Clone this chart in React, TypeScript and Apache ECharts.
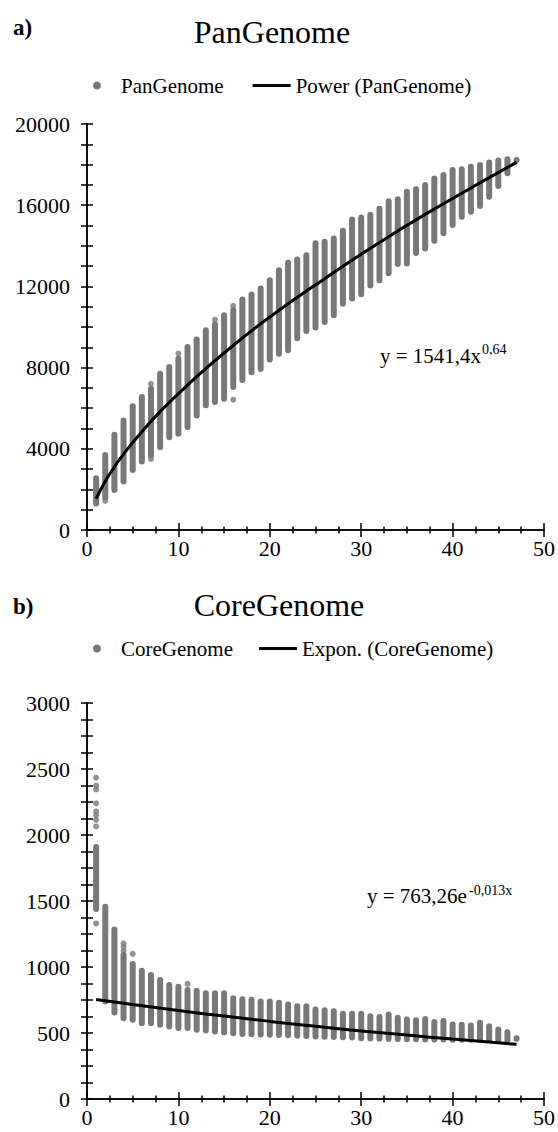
import React, { useEffect, useRef } from "react";
import * as echarts from "echarts";

const FONT = '"Liberation Serif", "Times New Roman", serif';
const GREY = "#787878";

// number of genomes (x)
const genomes = [
  1, 2, 3, 4, 5, 6, 7, 8, 9, 10, 11, 12, 13, 14, 15, 16, 17, 18, 19, 20, 21, 22, 23, 24,
  25, 26, 27, 28, 29, 30, 31, 32, 33, 34, 35, 36, 37, 38, 39, 40, 41, 42, 43, 44, 45, 46, 47,
];

// PanGenome: min / max of each column of points
const panMin = [
  1300, 1600, 1970, 2390, 2960, 3370, 3670, 4080, 4570, 4740, 5070, 5640, 6140, 6300, 6460, 7040,
  7390, 7770, 7930, 8400, 8680, 8850, 9450, 9800, 9970, 10250, 10580, 11150, 11400, 11610, 12040,
  12300, 12650, 13100, 13130, 13650, 13870, 14250, 14620, 15020, 15430, 15680, 15960, 16420, 16950,
  17570, 18230,
];
const panMax = [
  2550, 3700, 4690, 5400, 6090, 6550, 6960, 7700, 8030, 8440, 9010, 9380, 9840, 10130, 10580, 10820,
  11350, 11600, 11900, 12300, 12800, 13170, 13330, 13540, 14120, 14200, 14360, 14740, 15300, 15400,
  15530, 15820, 16200, 16290, 16660, 16780, 16990, 17320, 17490, 17740, 17770, 17900, 17980, 18100,
  18200, 18260, 18230,
];
// isolated PanGenome points
const panOutX = [2, 7, 7, 10, 14, 16, 16];
const panOutY = [1430, 7200, 3500, 8690, 10360, 11040, 6420];

// Power trendline
const panTrendX = [1, 2, 3, 4, 6, 8, 11, 15, 20, 26, 33, 40, 47];
const panTrendY = [1540, 2400, 3110, 3740, 4840, 5830, 7140, 8720, 10490, 12380, 14450, 16330, 18110];

// CoreGenome: min / max of each column of points
const coreMin = [
  1440, 738, 655, 612, 600, 574, 574, 562, 549, 537, 537, 524, 519, 511, 504, 499, 492, 490, 488,
  487, 485, 483, 480, 478, 474, 472, 470, 467, 465, 461, 459, 457, 454, 454, 453, 452, 451, 450,
  450, 449, 449, 448, 448, 447, 446, 441, 456,
];
const coreMax = [
  1910, 1456, 1285, 1091, 1023, 972, 940, 902, 864, 851, 826, 821, 801, 801, 801, 763, 756, 751, 738,
  738, 729, 716, 703, 703, 678, 673, 665, 645, 645, 645, 627, 622, 640, 615, 602, 596, 607, 584, 590,
  564, 563, 557, 577, 552, 526, 506, 460,
];
// isolated CoreGenome points
const coreOutX = [1, 1, 1, 1, 1, 1, 1, 1, 1, 4, 4, 4, 5, 11];
const coreOutY = [2435, 2375, 2345, 2240, 2180, 2150, 2115, 2065, 1330, 1179, 1154, 1123, 1100, 872];

// Exponential trendline
const coreTrendX = [1, 5, 10, 15, 20, 25, 30, 35, 40, 47];
const coreTrendY = [753, 716, 670, 628, 588, 551, 516, 484, 454, 414];

const tickStyle = { color: "#000", width: 1.5 };
const LINE_ICON = "path://M0,0 L38,0 L38,3 L0,3 Z";

function xAxisFor(gridIndex: number, inside: boolean) {
  return {
    type: "value",
    gridIndex,
    min: 0,
    max: 50,
    interval: 10,
    position: "bottom",
    axisLine: { show: true, onZero: false, lineStyle: tickStyle },
    axisTick: { show: true, inside, length: 7, lineStyle: tickStyle },
    minorTick: { show: true, splitNumber: 4, length: 3.5, lineStyle: tickStyle },
    axisLabel: { show: !inside, color: "#000", fontFamily: FONT, fontSize: 22, margin: 7 },
    splitLine: { show: false },
    minorSplitLine: { show: false },
  };
}

function yAxisFor(gridIndex: number, inside: boolean, max: number, interval: number, labelStep: number) {
  return {
    type: "value",
    gridIndex,
    min: 0,
    max,
    interval,
    position: "left",
    axisLine: { show: true, onZero: false, lineStyle: tickStyle },
    axisTick: { show: true, inside, length: 6, lineStyle: tickStyle },
    axisLabel: {
      show: !inside,
      color: "#000",
      fontFamily: FONT,
      fontSize: 22,
      margin: 17,
      formatter: (v: number) => (v % labelStep === 0 ? String(v) : ""),
    },
    splitLine: { show: false },
  };
}

function columnRender(params: any, api: any) {
  const x = api.value(0);
  const top = api.coord([x, api.value(2)]);
  const bot = api.coord([x, api.value(1)]);
  const w = 6;
  return {
    type: "rect",
    shape: { x: top[0] - w / 2, y: top[1] - w / 2, width: w, height: bot[1] - top[1] + w, r: w / 2 },
    style: { fill: GREY },
  };
}

function legendFor(top: number, gap: number, names: string[]) {
  return {
    left: 93,
    top,
    padding: 0,
    itemWidth: 38,
    itemHeight: 8,
    itemGap: gap,
    selectedMode: false,
    textStyle: { fontFamily: FONT, fontSize: 21, color: "#000" },
    data: [
      { name: names[0], icon: "circle" },
      { name: names[1], icon: LINE_ICON },
    ],
  };
}

function txt(x: number, y: number, text: string, fontSize: number, align = "left", bold = false) {
  return {
    type: "text",
    x,
    y,
    style: {
      text,
      fontSize,
      fontFamily: FONT,
      fontWeight: bold ? "bold" : "normal",
      fill: "#000",
      align,
      verticalAlign: "middle",
    },
  };
}

export default function App() {
  const ref = useRef<HTMLDivElement>(null);
  useEffect(() => {
    if (!ref.current) return;
    const chart = echarts.init(ref.current, undefined, { renderer: "svg" });
    const option: any = {
      animation: false,
      backgroundColor: "#fff",
      grid: [
        { left: 87, top: 124, width: 459, height: 406 },
        { left: 87, top: 703, width: 459, height: 396 },
      ],
      xAxis: [xAxisFor(0, false), xAxisFor(0, true), xAxisFor(1, false), xAxisFor(1, true)],
      yAxis: [
        yAxisFor(0, false, 20000, 1000, 4000),
        yAxisFor(0, true, 20000, 1000, 4000),
        yAxisFor(1, false, 3000, 125, 500),
        yAxisFor(1, true, 3000, 125, 500),
      ],
      legend: [
        legendFor(75, 29, ["PanGenome", "Power (PanGenome)"]),
        legendFor(638, 26, ["CoreGenome", "Expon. (CoreGenome)"]),
      ],
      graphic: [
        txt(13, 27, "a)", 23, "left", true),
        txt(272, 32, "PanGenome", 32, "center"),
        txt(13, 606, "b)", 23, "left", true),
        txt(279, 605, "CoreGenome", 32, "center"),
        txt(380, 356, "y = 1541,4x", 21),
        txt(482, 349, "0,64", 14),
        txt(367, 896, "y = 763,26e", 21),
        txt(469, 890, "-0,013x", 14),
      ],
      series: [
        {
          name: "PanGenome",
          type: "custom",
          xAxisIndex: 0,
          yAxisIndex: 0,
          itemStyle: { color: GREY },
          encode: { x: 0, y: [1, 2] },
          data: genomes.map((g, i) => [g, panMin[i], panMax[i]]),
          renderItem: columnRender,
          z: 2,
        },
        {
          name: "PanGenome",
          type: "scatter",
          xAxisIndex: 0,
          yAxisIndex: 0,
          symbolSize: 6,
          itemStyle: { color: GREY },
          data: panOutX.map((x, i) => [x, panOutY[i]]),
          z: 2,
        },
        {
          name: "Power (PanGenome)",
          type: "line",
          xAxisIndex: 0,
          yAxisIndex: 0,
          smooth: true,
          symbol: "none",
          lineStyle: { color: "#000", width: 3 },
          itemStyle: { color: "#000" },
          data: panTrendX.map((x, i) => [x, panTrendY[i]]),
          z: 5,
        },
        {
          name: "CoreGenome",
          type: "custom",
          xAxisIndex: 2,
          yAxisIndex: 2,
          itemStyle: { color: GREY },
          encode: { x: 0, y: [1, 2] },
          data: genomes.map((g, i) => [g, coreMin[i], coreMax[i]]),
          renderItem: columnRender,
          z: 2,
        },
        {
          name: "CoreGenome",
          type: "scatter",
          xAxisIndex: 2,
          yAxisIndex: 2,
          symbolSize: 6,
          itemStyle: { color: GREY },
          data: coreOutX.map((x, i) => [x, coreOutY[i]]),
          z: 2,
        },
        {
          name: "Expon. (CoreGenome)",
          type: "line",
          xAxisIndex: 2,
          yAxisIndex: 2,
          smooth: true,
          symbol: "none",
          lineStyle: { color: "#000", width: 3 },
          itemStyle: { color: "#000" },
          data: coreTrendX.map((x, i) => [x, coreTrendY[i]]),
          z: 5,
        },
      ],
    };
    chart.setOption(option);
    return () => chart.dispose();
  }, []);
  return (
    <div
      ref={ref}
      style={{ position: "fixed", left: 0, top: 0, width: 558, height: 1132, background: "#fff" }}
    />
  );
}
